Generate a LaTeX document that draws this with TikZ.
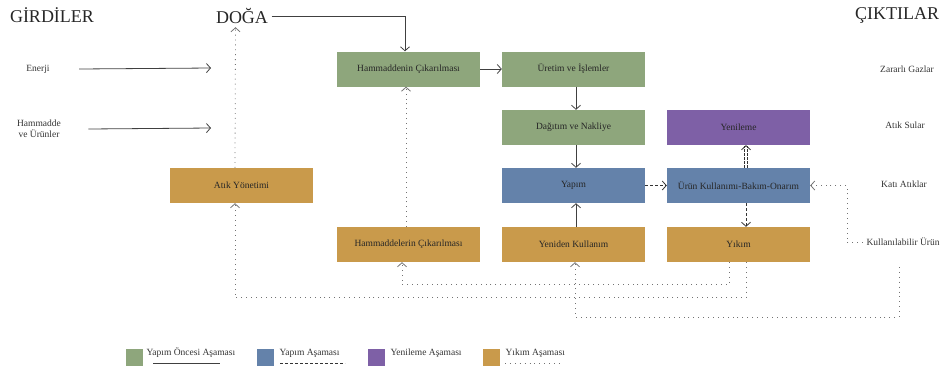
\documentclass[tikz,border=0pt]{standalone}
\usepackage{fontspec}
\setmainfont{Liberation Serif}
\usetikzlibrary{arrows.meta}
\definecolor{oncesi}{HTML}{8EA67C}
\definecolor{yapim}{HTML}{6482AA}
\definecolor{yenileme}{HTML}{7E60A6}
\definecolor{yikim}{HTML}{C99A4B}
\tikzset{
  kutu/.style={minimum width=143pt, minimum height=35pt, inner sep=0pt, text=black!85, font=\fontsize{9.5}{11}\selectfont},
  baslik/.style={font=\fontsize{18}{20}\selectfont, text=black!85},
  etiket/.style={font=\fontsize{9.5}{11}\selectfont, text=black!80, align=center},
  lejant/.style={minimum size=17pt, inner sep=0pt},
  ok/.style={-{Straight Barb[length=4pt,width=9pt]}, line width=0.8pt},
  duz/.style={draw=black!75},
  kesikli/.style={draw=black!80, dash pattern=on 3pt off 2pt},
  cift/.style={draw=black!80, double, double distance=1.8pt, line width=0.55pt, dash pattern=on 2.5pt off 1.5pt},
  noktali/.style={draw=black!55, dash pattern=on 0.9pt off 4pt},
}
\begin{document}
\begin{tikzpicture}[x=1pt,y=-1pt]
    \useasboundingbox (0,0) rectangle (944,373);
    % basliklar
    \node[baslik] (girdi) at (52,15) {GİRDİLER};
    \node[baslik] (doga) at (242,16) {DOĞA};
    \node[baslik] (cikti) at (897,15) {ÇIKTILAR};
    % girdiler ve ciktilar
    \node[etiket] (enerji) at (38,69) {Enerji};
    \node[etiket] (hammadde) at (39,129) {Hammadde\\ve Ürünler};
    \node[etiket] (zarar) at (907,69) {Zararlı Gazlar};
    \node[etiket] (sular) at (905,125) {Atık Sular};
    \node[etiket] (kati) at (904,184) {Katı Atıklar};
    \node[etiket, anchor=west] (kullan) at (863,242) {Kullanılabilir Ürün};
    \coordinate (enerjiuc) at (211,68);
    \coordinate (hammaddeuc) at (211,128);
    \coordinate (kullanalt) at (899,267);
    % asamalar
    \node[kutu, fill=oncesi] (hc) at (408.5,69) {Hammaddenin Çıkarılması};
    \node[kutu, fill=oncesi] (ui) at (573.5,69) {Üretim ve İşlemler};
    \node[kutu, fill=oncesi] (dn) at (573.5,127.5) {Dağıtım ve Nakliye};
    \node[kutu, fill=yenileme] (yen) at (738.5,127.5) {Yenileme};
    \node[kutu, fill=yikim] (ay) at (241.5,185.5) {Atık Yönetimi};
    \node[kutu, fill=yapim] (yap) at (573.5,185.5) {Yapım};
    \node[kutu, fill=yapim] (ukb) at (738.5,185.5) {Ürün Kullanımı-Bakım-Onarım};
    \node[kutu, fill=yikim] (hlc) at (408.5,244.5) {Hammaddelerin Çıkarılması};
    \node[kutu, fill=yikim] (yk) at (573.5,244.5) {Yeniden Kullanım};
    \node[kutu, fill=yikim] (yik) at (738.5,244.5) {Yıkım};
    % oklar
    \draw[duz, ok] ([xshift=26pt]enerji.east) -- (enerjiuc);
    \draw[duz, ok] ([xshift=24pt]hammadde.east) -- (hammaddeuc);
    \draw[duz, ok] (doga.east) -| ([xshift=-3.5pt]hc.north);
    \draw[duz, ok] (hc) -- (ui);
    \draw[duz, ok] ([xshift=2.5pt]ui.south) -- ([xshift=2.5pt]dn.north);
    \draw[duz, ok] ([xshift=2.5pt]dn.south) -- ([xshift=2.5pt]yap.north);
    \draw[duz, ok] ([xshift=2.5pt]yk.north) -- ([xshift=2.5pt]yap.south);
    \draw[kesikli, ok] (yap) -- (ukb);
    \draw[cift, ok] ([xshift=7.5pt]ukb.north) -- ([xshift=7.5pt]yen.south);
    \draw[kesikli, ok] ([xshift=7.5pt]ukb.south) -- ([xshift=7.5pt]yik.north);
    \draw[noktali, ok] ([xshift=-6.5pt]ay.north) -- ([xshift=-6.5pt]doga.south);
    \draw[noktali, ok] ([xshift=-2.5pt]hlc.north) -- ([xshift=-2.5pt]hc.south);
    \draw[noktali, ok] (kullan.west) -- ++(-16,0) |- (ukb.east);
    \draw[noktali, ok] ([xshift=-9.5pt]yik.south) -- ++(0,22) -| ([xshift=-6.5pt]hlc.south);
    \draw[noktali, ok] ([xshift=7.5pt]yik.south) -- ++(0,35) -| ([xshift=-6.5pt]ay.south);
    \draw[noktali, ok] (kullanalt) -- ++(0,50) -| ([xshift=1.5pt]yk.south);
    % lejant
    \node[lejant, fill=oncesi] (l1) at (134.5,357) {};
    \node[etiket, anchor=west] (t1) at (143,353) {Yapım Öncesi Aşaması};
    \draw[duz, line width=0.8pt] (153,363) -- (220,363);
    \node[lejant, fill=yapim] (l2) at (265.5,357) {};
    \node[etiket, anchor=west] (t2) at (276,353) {Yapım Aşaması};
    \draw[kesikli, line width=0.7pt] (280,363) -- (345,363);
    \node[lejant, fill=yenileme] (l3) at (376.5,357) {};
    \node[etiket, anchor=west] (t3) at (387,353) {Yenileme Aşaması};
    \draw[cift] (390,362) -- (462,362);
    \node[lejant, fill=yikim] (l4) at (491.5,357) {};
    \node[etiket, anchor=west] (t4) at (502,353) {Yıkım Aşaması};
    \draw[noktali, line width=0.8pt] (505,363) -- (560,363);
\end{tikzpicture}
\end{document}
